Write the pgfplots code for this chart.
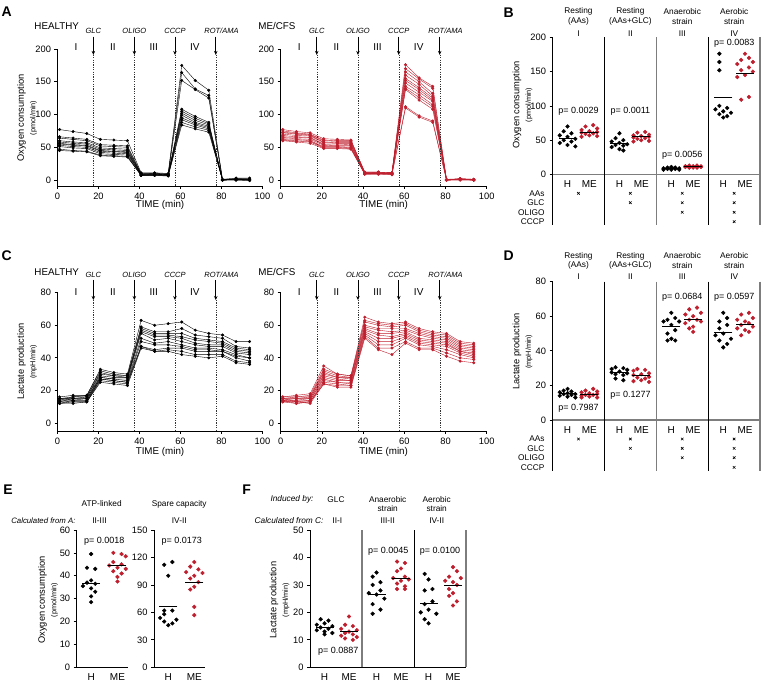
\documentclass[border=0pt]{standalone}
\usepackage{fontspec}
\setmainfont{Liberation Sans}
\usepackage{pgfplots}
\usepackage{pgfplotstable}
\pgfplotsset{compat=1.18}
\usetikzlibrary{arrows.meta}

\definecolor{mered}{RGB}{190,30,45}
\definecolor{sepg}{RGB}{125,125,125}
\newcommand{\fs}[1]{\fontsize{#1}{#1}\selectfont}

% ---- time courses (one column per subject) ----
\pgfplotstableread{
t c1 c2 c3 c4 c5 c6 c7 c8 c9 c10 c11
1 77 66 64 60 58 56 55 53 51 47 45
7.6 74 64 62 58 56 54 53 51 49 45 44
14.3 71 62 60 57 55 53 52 50 48 44 43
20.9 62 54 52 49 47 45 44 42 40 38 37
27.5 61 53 51 48 46 44 43 41 39 37 36
34.1 60 52 50 47 45 43 42 40 38 36 35
40.8 11 10 9 9 9 8 8 8 7 7 7
47.4 11 10 9 10 9 9 8 8 8 7 7
54 10 9 8 9 8 8 7 8 7 7 6
60.6 175 164 152 108 105 102 99 95 92 88 84
67.2 152 139 138 97 94 91 88 86 84 81 78
73.8 137 129 125 88 86 84 82 80 78 76 73
80.5 1 0 0 0 0 0 0 0 0 0 0
87.1 3 2 1 2 1 1 0 1 0 1 0
93.7 3 1 0 2 1 0 0 0 -1 0 0
}\AH
\pgfplotstableread{
t c1 c2 c3 c4 c5 c6 c7 c8 c9 c10 c11 c12
1 77 75 73 72 70 68 66 65 63 62 61 60
7.6 74 72 71 70 68 66 65 63 62 60 59 58
14.3 72 70 69 68 67 65 64 62 60 59 58 56
20.9 63 61 60 58 57 55 54 53 51 50 49 48
27.5 62 60 59 57 56 55 53 52 51 50 49 48
34.1 61 60 59 57 56 54 53 52 50 49 48 47
40.8 12 12 11 11 11 10 10 10 10 9 9 9
47.4 12 12 12 11 11 11 10 10 10 10 9 9
54 11 11 11 10 10 10 10 9 9 9 9 8
60.6 176 170 165 160 155 152 148 143 140 138 112 110
67.2 156 154 150 146 141 138 134 130 126 122 98 96
73.8 143 140 132 128 125 122 120 115 112 108 90 88
80.5 1 0 0 0 0 0 0 0 0 0 0 0
87.1 2 2 1 2 1 1 1 0 1 0 1 0
93.7 1 1 1 0 1 0 0 0 0 0 0 0
}\AM
\pgfplotstableread{
t c1 c2 c3 c4 c5 c6 c7 c8 c9 c10 c11
1 15 16 14 15 13 14 12 15 13 12 12
7.6 16 17 16 15 15 14 14 14 13 13 12
14.3 17 17 16 16 15 15 14 14 13 13 13
20.9 33 32 31 30 29 28 28 27 27 26 25
27.5 31 30 29 29 28 27 27 26 26 25 24
34.1 30 29 29 28 28 27 26 25 25 24 23
40.8 63 59 58 57 56 55 52 50 47 47 46
47.4 60 56 55 54 53 51 49 48 45 44 44
54 61 56 55 54 53 52 50 48 46 45 44
60.6 62 58 55 53 52 50 48 47 46 44 42
67.2 57 54 52 51 49 48 46 45 44 42 41
73.8 55 53 51 50 48 47 46 45 44 42 40
80.5 54 52 50 49 48 47 45 44 44 42 41
87.1 50 47 46 45 44 43 42 41 40 38 37
93.7 50 46 45 44 43 42 40 40 38 37 36
}\CH
\pgfplotstableread{
t c1 c2 c3 c4 c5 c6 c7 c8 c9 c10 c11 c12
1 16 15 16 14 15 14 13 15 14 13 14 13
7.6 17 16 16 15 15 14 14 13 13 12 12 13
14.3 18 17 16 16 15 15 14 14 13 13 13 12
20.9 35 33 32 31 30 29 28 27 26 25 24 24
27.5 30 30 29 28 28 27 26 25 25 24 23 22
34.1 29 29 28 28 27 26 26 25 24 23 23 22
40.8 65 63 62 60 59 58 57 56 55 54 53 52
47.4 62 61 60 58 57 55 54 52 50 48 46 45
54 61 60 59 58 56 55 53 52 50 48 46 42
60.6 62 61 60 58 57 56 55 54 53 52 50 49
67.2 58 57 56 55 54 52 51 50 49 48 46 45
73.8 56 55 54 53 52 51 50 49 48 47 46 45
80.5 55 54 53 52 51 50 49 48 47 45 43 41
87.1 50 49 48 47 46 45 44 44 43 42 40 38
93.7 49 48 47 46 45 44 43 42 41 40 39 37
}\CM

% ---- dot plots: g = group, d = sideways step, v = value ----
\pgfplotstableread{
g d v
0 0 70
0 -1 63
0 1 60
0 -2 57
0 0 55
0 2 52
0 -1 50
0 1 48
0 -2 46
0 0 43
0 2 41
1 0 60
1 -1 53
1 1 50
1 -2 48
1 0 46
1 2 44
1 -1 43
1 1 42
1 -2 40
1 0 37
1 1 35
2 0 11
2 -1 10
2 1 10
2 -2 9
2 0 9
2 2 9
2 -1 8
2 1 8
2 -2 7
2 0 7
2 2 7
3 -1 176
3 -1 164
3 -1 152
3 -1 100
3 1 97
3 -2 95
3 0 92
3 2 90
3 -1 88
3 1 85
3 0 83
}\BH
\pgfplotstableread{
g d v
0 1 72
0 -1 70
0 2 67
0 -2 65
0 0 63
0 2 62
0 -2 61
0 1 60
0 -1 59
0 0 57
0 2 56
0 -2 55
1 1 62
1 -1 61
1 2 58
1 -2 57
1 0 56
1 2 55
1 -2 54
1 1 53
1 -1 52
1 0 50
1 2 49
1 -2 48
2 -1 13
2 1 13
2 -2 12
2 0 12
2 2 12
2 -1 11
2 1 11
2 -2 11
2 2 11
2 0 10
2 -1 10
2 1 10
3 0 176
3 1 170
3 -1 167
3 2 164
3 -2 161
3 1 156
3 -1 152
3 2 150
3 0 145
3 -2 142
3 1 113
3 -1 109
}\BM
\pgfplotstableread{
x y
0.29 53.2
0.71 62
1.29 45
1.71 55
2.29 9
2.71 11.5
3.29 113
3.71 148
}\Bmean

\pgfplotstableread{
g d v
0 0 18
0 -1 17
0 1 16.5
0 -2 16
0 0 15.5
0 2 15
0 -1 15
0 1 14.5
0 -2 14
0 0 13.5
0 2 13
1 -1 30.5
1 1 30
1 -2 29.5
1 2 29
1 0 28
1 -2 27.5
1 2 27
1 -1 26.5
1 1 26
1 -1 24
1 1 23
2 0 62
2 1 59
2 -1 58
2 2 57
2 -2 57
2 0 55
2 1 52
2 -1 50
2 0 47
2 -1 46
2 1 46
3 0 62
3 1 59
3 -1 57
3 1 55
3 -1 53
3 0 50
3 -2 49
3 2 47
3 -1 46
3 1 44
3 0 42
}\DH
\pgfplotstableread{
g d v
0 1 18
0 -1 17
0 2 16.5
0 -2 16
0 0 15.5
0 2 15
0 -1 14.5
0 1 14.5
0 -2 14
0 0 13.5
0 2 13
0 -2 13
1 -1 29.5
1 1 29
1 -2 28.5
1 2 27
1 0 26.5
1 -2 26
1 2 25
1 -1 24.5
1 1 24
1 0 23
1 -2 22.5
1 2 22
2 1 65
2 -1 64
2 2 62
2 -2 61
2 0 60
2 1 58
2 -1 58
2 2 57
2 -2 56
2 0 54
2 -1 53
2 0 51
3 1 62
3 -1 61
3 2 59
3 -2 58
3 0 57
3 1 56
3 -1 55
3 2 54
3 -2 53
3 0 52
3 1 51
3 -1 49
}\DM
\pgfplotstableread{
x y
0.29 15.3
0.71 15
1.29 27.3
1.71 25.8
2.29 54
2.71 58
3.29 50.5
3.71 55.5
}\Dmean

\pgfplotstableread{
d v
0 49.5
-1 43.5
1 43
0 38
-1 37
1 36.5
-2 35.5
0 34.5
1 33
0 31
0 28.5
}\EaH
\pgfplotstableread{
d v
-1 50
1 49.5
2 48.5
-1 46
1 45
-2 44.5
0 43.5
2 43
-1 42
1 41
0 39.5
0 37.5
}\EaM
\pgfplotstableread{
d v
1 115
-1 112
0 100
-1 62
1 62
-1 58
-2 54
2 52
-1 50
1 48
0 46
}\EbH
\pgfplotstableread{
d v
0 115
-1 110
1 107
-2 104
2 103
0 100
-1 97
1 93
0 88
-1 85
0 66
0 57
}\EbM

\pgfplotstableread{
g d v
0 -1 17.5
0 1 17
0 0 16
0 -2 15.5
0 2 15
0 -1 14.5
0 1 14
0 -2 13.5
0 0 13
0 2 12.5
0 0 12
1 0 34.5
1 -1 33
1 1 31
1 -1 30
1 1 28
1 -2 27
1 0 26.5
1 2 25
1 -1 23
1 1 21
1 -1 19.5
2 -1 34
2 0 32
2 1 28.5
2 -1 28
2 1 24
2 -1 23
2 0 21
2 -2 20
2 2 19.5
2 -1 17.5
2 0 16
}\FH
\pgfplotstableread{
g d v
0 0 18.5
0 -1 15.5
0 1 15
0 -2 14
0 2 13.5
0 0 13
0 -1 12.5
0 1 12
0 -2 11.5
0 2 11
0 -1 10.5
0 1 10
1 -1 38.5
1 1 38
1 0 36
1 -1 35
1 1 33
1 -2 32.5
1 2 32
1 0 31.5
1 -1 30.5
1 1 29.5
1 -1 28.5
1 1 28.5
2 0 36.5
2 1 35
2 -1 33
2 2 32.5
2 -2 31.5
2 0 31
2 1 30
2 -1 28.5
2 0 27
2 -1 26
2 1 24
2 0 22.5
}\FM
\pgfplotstableread{
x y
0.28 14.6
0.75 13.2
1.28 26.6
1.75 32.4
2.28 23.3
2.75 29.8
}\Fmean

\pgfplotsset{
  base/.style={scale only axis, clip=false, anchor=south west,
    axis x line*=bottom, axis y line*=left,
    axis line style={line width=0.75pt},
    tick align=outside, major tick length=3pt,
    tick style={black, line width=0.75pt},
    /pgf/number format/assume math mode=true,
    tick label style={font=\fs{9.3}}},
  course/.style={base, xmin=0, xmax=100, xtick={0,20,...,100}},
  hcurve/.style={black, line width=0.4pt, mark=*, mark size=1.3pt},
  mcurve/.style={mered, line width=0.4pt, mark=*, mark size=1.3pt},
  dots/.style={base, ymin=0, xtick style={draw=none},
    x tick label style={font=\fs{10}}},
  hdot/.style={only marks, mark=*, mark size=1.9pt, black},
  mdot/.style={only marks, mark=*, mark size=1.9pt, mered},
  mean/.style={only marks, mark=-, mark size=9pt, black, line width=0.9pt},
  xmark/.style={only marks, mark=x, mark size=1.8pt, black, line width=0.6pt},
}
\tikzset{
  drugarrow/.style={-{Stealth[length=4pt,width=3.5pt]}, line width=0.9pt},
  cut/.style={line width=0.4pt, dash pattern=on 1.2pt off 1.2pt, black!80},
  blk/.style={line width=0.9pt, black},
  gry/.style={line width=1.3pt, sepg},
}
% x, label, label x, label y, arrow top, arrow tip, ymin
\newcommand{\drug}[7]{%
  \draw[cut] (axis cs:#1,#6) -- (axis cs:#1,#7);
  \draw[drugarrow] (axis cs:#1,#5) -- (axis cs:#1,#6);
  \node[font=\fs{7.5}\itshape] at (axis cs:#3,#4) {#2};}
\newcommand{\drugset}[5]{%
  \drug{17.5}{GLC}{17.5}{#1}{#2}{#3}{#4}%
  \drug{37.5}{OLIGO}{37.5}{#1}{#2}{#3}{#4}%
  \drug{57.3}{CCCP}{57.3}{#1}{#2}{#3}{#4}%
  \drug{77.2}{ROT/AMA}{80}{#1}{#2}{#3}{#4}%
  \node[font=\fs{10}] at (axis cs:9,#5) {I};
  \node[font=\fs{10}] at (axis cs:27,#5) {II};
  \node[font=\fs{10}] at (axis cs:47,#5) {III};
  \node[font=\fs{10}] at (axis cs:67,#5) {IV};}

\begin{document}
\begin{tikzpicture}[x=1pt, y=1pt]
\useasboundingbox (0,0) rectangle (766,696);

% ================= A =================
\begin{axis}[course, at={(57.5pt,510pt)}, width=205pt, height=137pt,
  ymin=-9.16, ymax=200, ytick={0,50,...,200}]
\pgfplotsinvokeforeach{1,...,11}{\addplot[hcurve] table[x=t, y=c#1]{\AH};}
\drugset{228}{219}{191}{-9.16}{203.5}
\end{axis}
\begin{axis}[course, at={(280.7pt,510pt)}, width=206pt, height=137pt,
  ymin=-9.16, ymax=200, ytick={0,50,...,200}]
\pgfplotsinvokeforeach{1,...,12}{\addplot[mcurve] table[x=t, y=c#1]{\AM};}
\drugset{228}{219}{191}{-9.16}{203.5}
\end{axis}

% ================= C =================
\begin{axis}[course, at={(57.5pt,265pt)}, width=205pt, height=138.3pt,
  ymin=-4.9, ymax=80, ytick={0,20,...,80}]
\pgfplotsinvokeforeach{1,...,11}{\addplot[hcurve] table[x=t, y=c#1]{\CH};}
\drugset{90.9}{87.8}{75.5}{-4.9}{80.6}
\end{axis}
\begin{axis}[course, at={(280.7pt,265pt)}, width=206pt, height=138.3pt,
  ymin=-4.9, ymax=80, ytick={0,20,...,80}]
\pgfplotsinvokeforeach{1,...,12}{\addplot[mcurve] table[x=t, y=c#1]{\CM};}
\drugset{90.9}{87.8}{75.5}{-4.9}{80.6}
\end{axis}

% ================= B =================
\begin{axis}[dots, at={(552.5pt,521.5pt)}, width=207.6pt, height=137.2pt,
  xmin=0, xmax=4, ymax=200, ytick={0,50,...,200},
  xtick={0.29,0.71,1.29,1.71,2.29,2.71,3.29,3.71},
  xticklabels={H,ME,H,ME,H,ME,H,ME},
  x axis line style={sepg, line width=1.2pt}]
\addplot[hdot] table[x expr=\thisrow{g}+0.29+0.075*(\thisrow{d}), y=v]{\BH};
\addplot[mdot] table[x expr=\thisrow{g}+0.71+0.075*(\thisrow{d}), y=v]{\BM};
\addplot[mean] table[x=x, y=y]{\Bmean};
\addplot[xmark] coordinates {(0.5,-27.4) (1.5,-27.4) (1.5,-41.1)
  (2.5,-27.4) (2.5,-41.1) (2.5,-55.1)
  (3.5,-27.4) (3.5,-41.1) (3.5,-55.1) (3.5,-68.8)};
\draw[line width=0.75pt] (axis cs:0,0) -- (axis cs:0,-73.6);
\draw[blk] (axis cs:1,200) -- (axis cs:1,-73.6);
\draw[gry] (axis cs:2,200) -- (axis cs:2,-73.6);
\draw[blk] (axis cs:3,200) -- (axis cs:3,-73.6);
\draw[gry] (axis cs:4,200) -- (axis cs:4,-73.6);
\end{axis}

% ================= D =================
\begin{axis}[dots, at={(552.5pt,276pt)}, width=207.6pt, height=138.3pt,
  xmin=0, xmax=4, ymax=80, ytick={0,20,...,80},
  xtick={0.29,0.71,1.29,1.71,2.29,2.71,3.29,3.71},
  xticklabels={H,ME,H,ME,H,ME,H,ME},
  x axis line style={sepg, line width=1.2pt}]
\addplot[hdot] table[x expr=\thisrow{g}+0.29+0.075*(\thisrow{d}), y=v]{\DH};
\addplot[mdot] table[x expr=\thisrow{g}+0.71+0.075*(\thisrow{d}), y=v]{\DM};
\addplot[mean] table[x=x, y=y]{\Dmean};
\addplot[xmark] coordinates {(0.5,-11) (1.5,-11) (1.5,-16.4)
  (2.5,-11) (2.5,-16.4) (2.5,-21.8)
  (3.5,-11) (3.5,-16.4) (3.5,-21.8) (3.5,-27.4)};
\draw[line width=0.75pt] (axis cs:0,0) -- (axis cs:0,-29.3);
\draw[blk] (axis cs:1,80) -- (axis cs:1,-29.3);
\draw[gry] (axis cs:2,80) -- (axis cs:2,-29.3);
\draw[blk] (axis cs:3,80) -- (axis cs:3,-29.3);
\draw[gry] (axis cs:4,80) -- (axis cs:4,-29.3);
\end{axis}

% ================= E =================
\begin{axis}[dots, at={(76.7pt,28.7pt)}, width=51.6pt, height=137.3pt,
  xmin=0, xmax=1, ymax=60, ytick={0,10,...,60},
  xtick={0.28,0.79}, xticklabels={H,ME}]
\addplot[hdot] table[x expr=0.28+0.08*(\thisrow{d}), y=v]{\EaH};
\addplot[mdot] table[x expr=0.79+0.08*(\thisrow{d}), y=v]{\EaM};
\addplot[mean] coordinates {(0.28,36.5) (0.79,44.3)};
\end{axis}
\begin{axis}[dots, at={(154pt,28.7pt)}, width=51pt, height=137.3pt,
  xmin=0, xmax=1, ymax=150, ytick={0,30,...,150},
  xtick={0.28,0.79}, xticklabels={H,ME}]
\addplot[hdot] table[x expr=0.28+0.08*(\thisrow{d}), y=v]{\EbH};
\addplot[mdot] table[x expr=0.79+0.08*(\thisrow{d}), y=v]{\EbM};
\addplot[mean] coordinates {(0.28,67) (0.79,92.5)};
\end{axis}

% ================= F =================
\begin{axis}[dots, at={(310pt,28.7pt)}, width=156pt, height=137.3pt,
  xmin=0, xmax=3, ymax=50, ytick={0,10,...,50},
  xtick={0.28,0.75,1.28,1.75,2.28,2.75}, xticklabels={H,ME,H,ME,H,ME}]
\addplot[hdot] table[x expr=\thisrow{g}+0.28+0.075*(\thisrow{d}), y=v]{\FH};
\addplot[mdot] table[x expr=\thisrow{g}+0.75+0.075*(\thisrow{d}), y=v]{\FM};
\addplot[mean] table[x=x, y=y]{\Fmean};
\draw[gry] (axis cs:1,0) -- (axis cs:1,50);
\draw[blk] (axis cs:2,0) -- (axis cs:2,50);
\draw[gry] (axis cs:3,0) -- (axis cs:3,50);
\end{axis}

% ================= text =================
\tikzset{lt/.style={font=\fs{14}\bfseries}, t9/.style={font=\fs{9.8}},
  t8/.style={font=\fs{8.3}}, tp/.style={font=\fs{9}},
  ti/.style={font=\fs{8.3}\itshape},
  yl/.style={font=\fs{9.3}, rotate=90}, yu/.style={font=\fs{7.3}, rotate=90}}
% A
\node[lt] at (6.7,684) {A};
\node[t9] at (56.7,670) {HEALTHY};
\node[t9] at (277,670) {ME/CFS};
\node[t9] at (160,491) {TIME (min)};
\node[t9] at (383.7,491) {TIME (min)};
\node[yl] at (21.5,578) {Oxygen consumption};
\node[yu] at (33.5,578) {(pmol/min)};
% C
\node[lt] at (6.7,440) {C};
\node[t9] at (56.7,424.3) {HEALTHY};
\node[t9] at (277,424.3) {ME/CFS};
\node[t9] at (160,244.3) {TIME (min)};
\node[t9] at (383.7,244.3) {TIME (min)};
\node[yl] at (21.5,334.3) {Lactate production};
\node[yu] at (33.5,334.3) {(mpH/min)};
% B
\node[lt] at (508.7,683.3) {B};
\node[t8] at (578.5,684.3) {Resting};   \node[t8] at (578.5,674.3) {(AAs)};
\node[t8] at (630.4,684.3) {Resting};   \node[t8] at (630.4,674.3) {(AAs+GLC)};
\node[t8] at (682.3,684.3) {Anaerobic}; \node[t8] at (682.3,674.3) {strain};
\node[t8] at (734.2,684.3) {Aerobic};   \node[t8] at (734.2,674.3) {strain};
\node[t8] at (578.5,662.7) {I};  \node[t8] at (630.4,662.7) {II};
\node[t8] at (682.3,662.7) {III}; \node[t8] at (734.2,662.7) {IV};
\node[tp] at (578.5,584.3) {p= 0.0029};
\node[tp] at (630.4,584.3) {p= 0.0011};
\node[tp] at (682.3,541) {p= 0.0056};
\node[tp] at (734.2,652.7) {p= 0.0083};
\node[t8, anchor=east] at (548,502.7) {AAs};
\node[t8, anchor=east] at (548,493.3) {GLC};
\node[t8, anchor=east] at (548,483.7) {OLIGO};
\node[t8, anchor=east] at (548,474.3) {CCCP};
\node[yl] at (517,591) {Oxygen consumption};
\node[yu] at (529,591) {(pmol/min)};
% D
\node[lt] at (508.7,440) {D};
\node[t8] at (578.5,440) {Resting};   \node[t8] at (578.5,430.3) {(AAs)};
\node[t8] at (630.4,440) {Resting};   \node[t8] at (630.4,430.3) {(AAs+GLC)};
\node[t8] at (682.3,440) {Anaerobic}; \node[t8] at (682.3,430.3) {strain};
\node[t8] at (734.2,440) {Aerobic};   \node[t8] at (734.2,430.3) {strain};
\node[t8] at (578.5,419.3) {I};  \node[t8] at (630.4,419.3) {II};
\node[t8] at (682.3,419.3) {III}; \node[t8] at (734.2,419.3) {IV};
\node[tp] at (578.5,287.7) {p= 0.7987};
\node[tp] at (630.4,301) {p= 0.1277};
\node[tp] at (682.3,398.7) {p= 0.0684};
\node[tp] at (734.2,398.7) {p= 0.0597};
\node[t8, anchor=east] at (548,257) {AAs};
\node[t8, anchor=east] at (548,247.7) {GLC};
\node[t8, anchor=east] at (548,238.3) {OLIGO};
\node[t8, anchor=east] at (548,228.7) {CCCP};
\node[yl] at (517,344.3) {Lactate production};
\node[yu] at (529,344.3) {(mpH/min)};
% E
\node[lt] at (8,206) {E};
\node[t8] at (101.7,192) {ATP-linked};
\node[t8] at (179.2,192) {Spare capacity};
\node[font=\fs{7.8}\itshape, anchor=east] at (79,175.3) {Calculated from A:};
\node[t8] at (99.5,175.3) {II-III};
\node[t8] at (179.3,175.3) {IV-II};
\node[tp] at (104.2,155) {p= 0.0018};
\node[tp] at (181.7,155) {p= 0.0173};
\node[yl] at (42.5,96) {Oxygen consumption};
\node[yu] at (54.5,96) {(pmol/min)};
% F
\node[lt] at (246.7,206) {F};
\node[ti, anchor=east] at (317,196.7) {Induced by:};
\node[t8] at (336,196.7) {GLC};
\node[t8] at (387.7,196.7) {Anaerobic}; \node[t8] at (387.7,187) {strain};
\node[t8] at (436.7,196.7) {Aerobic};   \node[t8] at (436.7,187) {strain};
\node[ti, anchor=east] at (327,175.3) {Calculated from C:};
\node[t8] at (337.3,175.3) {II-I};
\node[t8] at (387.7,175.3) {III-II};
\node[t8] at (436.7,175.3) {IV-II};
\node[tp] at (338.3,44.3) {p= 0.0887};
\node[tp] at (388.3,145) {p= 0.0045};
\node[tp] at (440,145) {p= 0.0100};
\node[yl] at (274,96) {Lactate production};
\node[yu] at (286,96) {(mpH/min)};
\end{tikzpicture}
\end{document}
